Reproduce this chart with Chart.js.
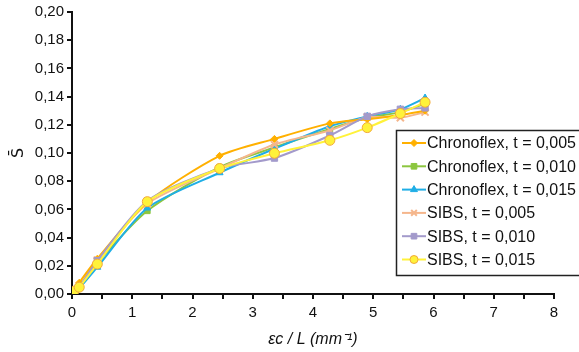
<!DOCTYPE html>
<html>
<head>
<meta charset="utf-8">
<script src="https://cdn.jsdelivr.net/npm/chart.js@4"></script>
<style>
  html, body { margin: 0; padding: 0; background: #fff; }
  #wrap { width: 579px; height: 352px; position: relative; }
</style>
</head>
<body>
<div id="wrap"><canvas id="myChart" width="579" height="352"></canvas></div>
<script>
// x values (strain / length)
const xValues = [0, 0.03, 0.12, 0.42, 1.25, 2.45, 3.36, 4.28, 4.9, 5.45, 5.86];
const seriesLabels = [
    'Chronoflex, t = 0,005',
    'Chronoflex, t = 0,010',
    'Chronoflex, t = 0,015',
    'SIBS, t = 0,005',
    'SIBS, t = 0,010',
    'SIBS, t = 0,015'
];
const chrono005 = [0, 0.002, 0.008, 0.025, 0.065, 0.098, 0.110, 0.121, 0.124, 0.127, 0.130];
const chrono010 = [0, 0.001, 0.005, 0.022, 0.059, 0.090, 0.104, 0.117, 0.125, 0.129, 0.135];
const chrono015 = [0, 0.001, 0.004, 0.019, 0.061, 0.086, 0.103, 0.119, 0.126, 0.131, 0.139];
const sibs005 = [0, 0.001, 0.005, 0.024, 0.064, 0.089, 0.106, 0.116, 0.1255, 0.125, 0.129];
const sibs010 = [0, 0.001, 0.005, 0.0236, 0.066, 0.089, 0.0964, 0.1124, 0.126, 0.131, 0.132];
const sibs015 = [0, 0.002, 0.0048, 0.0212, 0.0655, 0.089, 0.0998, 0.109, 0.118, 0.128, 0.136];

const FONT = "'Liberation Sans', Arial, sans-serif";

function pts(values) {
    return values.map((v, i) => ({ x: xValues[i], y: v }));
}

// dataset styles
const styles = [
    { line: '#FFB000', fill: '#FFB000', point: 'rectRot', radius: 3.5, order: 2 },
    { line: '#8CC63F', fill: '#8CC63F', point: 'rect', radius: 4, order: 5 },
    { line: '#1FAEE6', fill: '#1FAEE6', point: 'triangle', radius: 4, order: 4 },
    { line: '#F5B68C', fill: '#F5B68C', point: 'crossRot', radius: 5, order: 3 },
    { line: '#A39ACB', fill: '#A39ACB', point: 'rect', radius: 4.5, order: 1 },
    { line: '#FFF23A', fill: '#FFF23A', point: 'circle', radius: 5, order: 0, border: '#F2A93B' }
];
const allData = [chrono005, chrono010, chrono015, sibs005, sibs010, sibs015];

const datasets = allData.map((d, i) => ({
    label: seriesLabels[i],
    data: pts(d),
    borderColor: styles[i].line,
    backgroundColor: styles[i].fill,
    pointBorderColor: styles[i].border || styles[i].line,
    pointBackgroundColor: styles[i].fill,
    pointStyle: styles[i].point,
    pointRadius: styles[i].radius,
    pointBorderWidth: styles[i].point === 'crossRot' ? 2 : 1,
    borderWidth: 2,
    tension: 0.25,
    order: styles[i].order
}));

// legend box drawn inside the plot
const boxLegend = {
    id: 'boxLegend',
    afterDraw(chart) {
        const ctx = chart.ctx;
        const left = 396.5, top = 130.5, w = 200, h = 145;
        ctx.save();
        ctx.fillStyle = '#fff';
        ctx.fillRect(left, top, w, h);
        ctx.strokeStyle = '#222';
        ctx.lineWidth = 1.5;
        ctx.strokeRect(left, top, w, h);
        ctx.font = '16px ' + FONT;
        ctx.textBaseline = 'middle';
        datasets.forEach((ds, i) => {
            const y = 143 + i * 23.3;
            ctx.strokeStyle = ds.borderColor;
            ctx.lineWidth = 2;
            ctx.beginPath();
            ctx.moveTo(402, y);
            ctx.lineTo(426, y);
            ctx.stroke();
            // marker
            ctx.fillStyle = ds.pointBackgroundColor;
            ctx.strokeStyle = ds.pointBorderColor;
            ctx.lineWidth = ds.pointBorderWidth;
            Chart.helpers.drawPoint(ctx, {
                pointStyle: ds.pointStyle,
                radius: Math.min(ds.pointRadius, 4),
                borderWidth: ds.pointBorderWidth,
                rotation: 0
            }, 414, y);
            ctx.fillStyle = '#111';
            ctx.fillText(ds.label, 427, y + 1);
        });
        ctx.restore();
    }
};

const ctx = document.getElementById('myChart').getContext('2d');
const myChart = new Chart(ctx, {
    type: 'line',
    data: { datasets: datasets },
    options: {
        responsive: false,
        animation: false,
        layout: { padding: { top: 12, right: 25, left: 0, bottom: 0 } },
        plugins: {
            legend: { display: false },
            tooltip: { enabled: false }
        },
        scales: {
            x: {
                type: 'linear',
                min: 0,
                max: 8,
                border: { color: '#111', width: 2 },
                grid: { display: true, drawOnChartArea: false, color: '#111', lineWidth: 2, tickLength: 5 },
                ticks: {
                    stepSize: 0.5,
                    autoSkip: false,
                    maxRotation: 0,
                    color: '#111',
                    font: { family: FONT, size: 15 },
                    padding: 5,
                    callback: v => (Number.isInteger(v) ? String(v) : '')
                },
                title: {
                    display: true,
                    text: 'εc / L (mm⁻¹)',
                    color: '#111',
                    font: { family: FONT, size: 16, style: 'italic' },
                    padding: { top: 4, bottom: 3 }
                },
                afterFit: scale => { scale.height = 58; }
            },
            y: {
                min: 0,
                max: 0.2,
                border: { color: '#111', width: 2 },
                grid: { display: true, drawOnChartArea: false, color: '#111', lineWidth: 2, tickLength: 5 },
                ticks: {
                    stepSize: 0.02,
                    color: '#111',
                    font: { family: FONT, size: 15 },
                    padding: 3,
                    callback: v => v.toFixed(2).replace('.', ',')
                },
                title: {
                    display: true,
                    text: 'S\u0304',
                    color: '#111',
                    font: { family: 'DejaVu Sans', size: 16 },
                    padding: { top: 9, bottom: 0 }
                },
                afterFit: scale => { scale.width = 72; }
            }
        }
    },
    plugins: [boxLegend]
});
</script>
</body>
</html>
